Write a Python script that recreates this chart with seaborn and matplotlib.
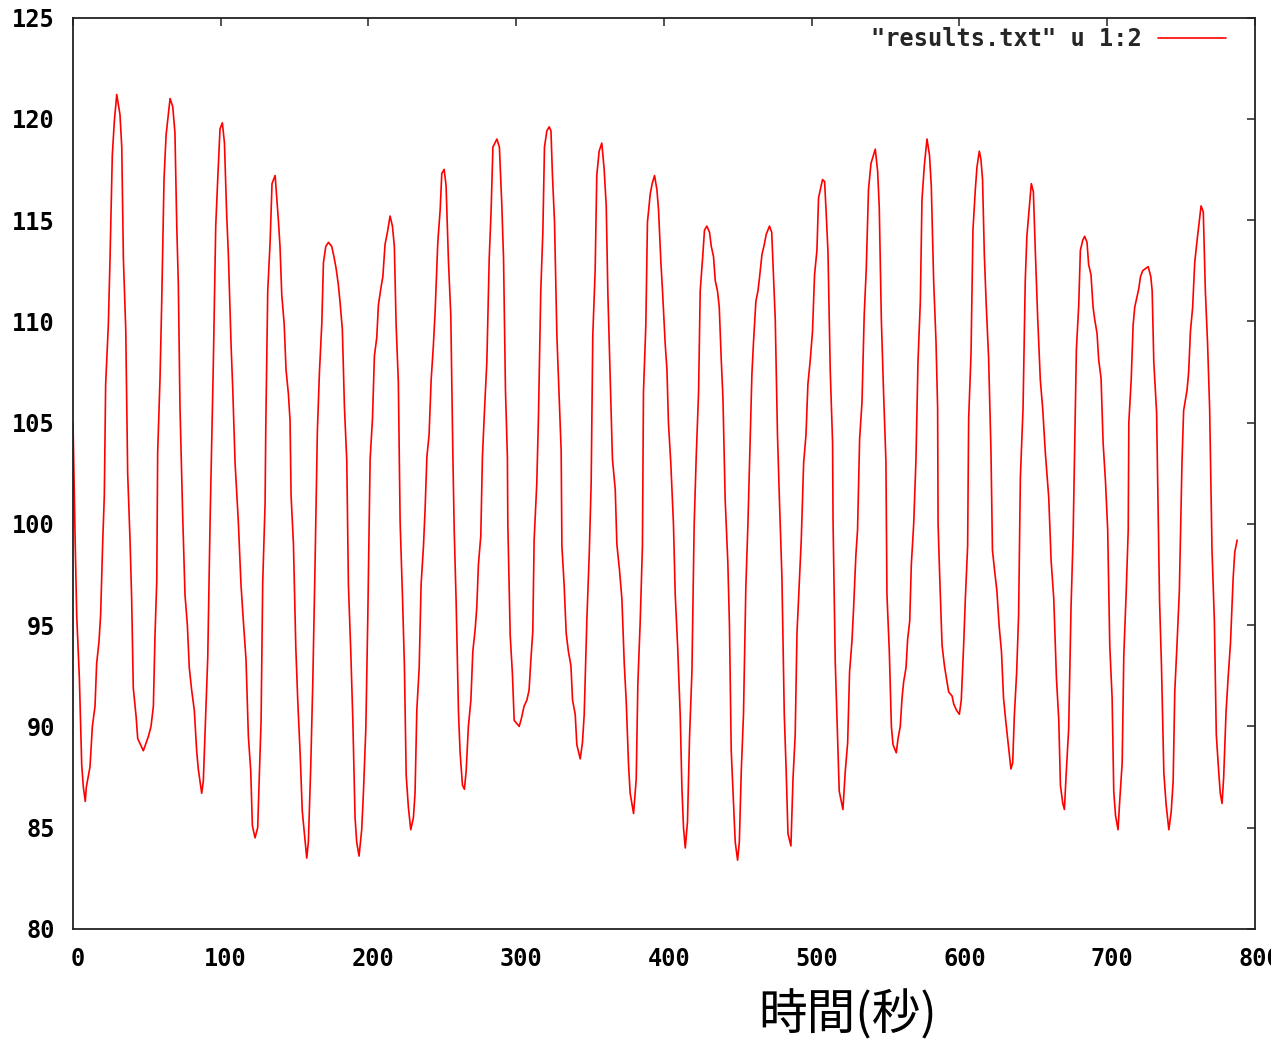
import matplotlib
matplotlib.use("Agg")
import matplotlib.pyplot as plt
import matplotlib.transforms as mtransforms
import seaborn as sns
import pandas as pd

# ---- data (time in s, value) ----
time_s = [
    0.0, 1.5, 2.5, 4.3, 5.9, 7.0, 8.3,
    9.0, 11.5, 13.1, 14.9, 16.0, 17.6, 18.7, 20.1, 21.2, 22.1, 23.9, 25.0, 26.6, 28.0, 29.6,
    31.8, 33.0, 34.1, 35.7, 37.0, 38.6, 39.7, 40.8, 42.7, 43.8, 47.6,
    51.0, 52.8, 54.4, 55.5, 56.7, 57.3, 58.9, 60.0, 61.6, 63.0, 65.7,
    67.5, 69.0, 70.2, 71.3, 72.4, 74.2, 75.8, 77.4, 78.7, 80.3, 82.1, 83.7, 84.8, 87.1,
    88.2, 89.8, 91.2, 92.8, 93.9, 95.0, 96.6, 98.0, 99.5, 101.1,
    102.5, 104.0, 105.2, 107.0, 108.1, 109.7, 110.8, 111.9, 113.7, 115.3, 117.1, 118.7, 120.3, 121.4, 123.2,
    125.0, 126.2, 127.3, 128.4, 130.0, 130.5, 131.8, 133.4, 134.7, 136.8,
    137.9, 139.0, 140.1, 141.3, 142.9, 144.2, 145.8, 146.9, 147.6, 149.2, 150.8, 152.1, 153.7, 155.2, 156.6, 158.2,
    159.3, 160.9, 162.3, 163.8, 165.4, 166.8, 168.4, 169.5, 171.1, 172.9,
    175.1, 176.6, 178.1, 179.6, 180.8, 182.3, 183.7, 185.3, 186.4, 188.0, 189.4, 190.9, 192.0, 193.6,
    195.4, 196.6, 198.2, 199.5, 201.1, 202.7, 204.0, 205.6, 206.7, 208.3, 209.7, 211.2, 212.8, 214.6,
    216.2, 217.5, 218.7, 220.2, 221.4, 223.0, 224.3, 225.5, 227.0, 228.6,
    230.4, 231.5, 232.7, 234.3, 235.6, 237.2, 238.3, 239.5, 241.0, 242.4, 243.9, 245.1, 246.9, 248.5, 249.6, 251.2,
    252.5, 254.1, 255.7, 257.1, 258.0, 259.3, 260.9, 262.0, 263.6, 264.9,
    266.1, 267.6, 269.3, 270.6, 272.2, 273.3, 274.4, 276.0, 277.1, 278.5, 280.1, 281.7, 283.0, 284.2, 286.9,
    288.6, 290.2, 291.4, 292.7, 294.0, 294.3, 295.9, 297.4, 298.6, 302.0,
    303.5, 305.3, 307.2, 308.7, 309.9, 311.2, 312.1, 313.9, 315.0, 316.6, 318.0, 319.1, 320.7, 322.3,
    323.5, 324.5, 325.9, 327.5, 329.0, 330.4, 330.9, 332.4, 333.8, 335.3, 337.0, 338.1, 339.9, 341.0, 343.3,
    344.8, 346.0, 347.8, 349.4, 350.7, 351.8, 353.4, 354.5, 356.1, 357.9,
    359.5, 360.9, 362.0, 363.6, 365.1, 367.0, 368.1, 369.9, 371.5, 373.1, 374.4, 376.0, 377.1, 379.4,
    381.2, 382.3, 383.9, 385.4, 386.1, 387.7, 388.8, 390.7, 392.0, 393.6,
    395.2, 396.3, 397.9, 399.0, 400.8, 402.0, 403.0, 404.6, 406.4, 407.6, 409.2, 411.0, 412.1, 413.2, 414.4,
    415.9, 417.3, 418.9, 420.4, 421.8, 423.4, 424.5, 426.1, 427.4, 429.0,
    430.8, 432.0, 433.5, 434.7, 436.2, 437.4, 438.7, 439.9, 441.4, 443.2, 444.3, 445.5, 447.0, 448.2, 449.8,
    451.0, 452.3, 453.8, 455.4, 456.8, 457.9, 459.5, 460.6, 462.2, 463.6, 464.7, 466.3, 467.9, 469.2, 471.4,
    472.9, 474.1, 475.3, 476.8, 478.2, 479.8, 481.4, 482.7, 483.9, 485.9,
    487.3, 488.8, 490.0, 491.5, 492.9, 494.5, 496.1, 497.4, 499.0, 500.5, 501.9, 503.5, 504.6, 507.3,
    508.7, 509.8, 511.0, 512.5, 514.1, 514.4, 515.9, 517.1, 518.6, 521.1,
    522.7, 524.3, 525.6, 527.2, 528.3, 529.9, 531.0, 532.4, 534.0, 535.5, 536.9, 538.4, 540.1, 543.0,
    544.6, 545.7, 547.1, 548.6, 550.2, 550.9, 552.5, 553.9, 555.0, 557.2,
    558.4, 559.9, 561.1, 562.2, 563.8, 564.9, 566.3, 567.4, 569.0, 570.5, 571.9, 573.5, 574.6, 576.2, 578.0,
    579.7, 580.9, 582.5, 584.1, 585.2, 585.5, 586.6, 588.2, 589.8, 591.1, 592.7, 595.0, 596.1, 598.0, 599.9,
    601.2, 602.8, 603.9, 605.5, 606.2, 607.8, 609.1, 610.7, 611.8, 613.4,
    614.5, 615.6, 616.8, 618.1, 619.7, 621.3, 622.3, 623.9, 625.3, 626.9, 628.4, 629.8, 631.4, 632.9, 634.8,
    636.0, 637.1, 638.7, 640.0, 641.2, 643.0, 644.5, 645.6, 647.3, 648.6,
    650.0, 651.3, 652.9, 654.7, 656.3, 658.1, 660.4, 662.0, 663.8, 665.6, 667.2, 668.3, 669.9, 671.0,
    672.3, 673.9, 675.5, 676.9, 679.1, 680.7, 681.8, 683.4, 684.7,
    686.3, 687.4, 689.0, 690.4, 691.5, 693.1, 694.2, 695.8, 697.2, 698.8, 700.3, 701.7, 703.3, 704.4, 705.6, 707.3,
    708.5, 710.1, 711.2, 712.8, 714.2, 714.6, 716.2, 717.5, 718.6, 719.8, 721.3, 722.5, 724.0, 727.7,
    729.5, 730.4, 731.5, 733.4, 735.4, 736.7, 738.3, 739.9, 741.7,
    743.3, 744.6, 745.7, 747.3, 748.8, 750.0, 750.6, 751.7, 754.0, 755.1, 756.3, 757.8, 759.2, 760.8, 762.4, 763.5,
    765.0, 766.4, 767.9, 769.3, 770.9, 772.5, 773.8, 775.4, 776.5, 777.7,
    778.8, 780.4, 781.8, 783.4, 785.2, 786.3, 787.9,
]
value = [
    105.0, 99.0, 95.5, 92.4, 88.1, 87.0, 86.3,
    87.0, 88.0, 90.0, 91.0, 93.1, 94.2, 95.5, 99.1, 101.4, 106.9, 109.8, 112.9, 118.2, 119.9, 121.2,
    120.2, 118.6, 113.1, 109.6, 102.5, 99.2, 96.3, 91.9, 90.5, 89.4, 88.8,
    89.5, 90.0, 91.0, 94.5, 97.2, 103.5, 107.2, 110.8, 117.0, 119.2, 121.0,
    120.6, 119.3, 114.8, 111.8, 105.8, 100.5, 96.5, 95.0, 92.9, 91.8, 90.8, 88.8, 87.9, 86.7,
    87.3, 90.6, 93.4, 100.2, 104.1, 108.0, 114.7, 117.1, 119.5, 119.8,
    118.8, 115.3, 113.2, 108.8, 106.7, 103.0, 101.5, 100.1, 97.0, 95.2, 93.3, 89.5, 87.8, 85.1, 84.5,
    85.0, 87.7, 90.3, 97.1, 101.0, 104.9, 111.5, 113.9, 116.8, 117.2,
    116.1, 115.0, 113.7, 111.3, 109.9, 107.6, 106.4, 105.1, 101.4, 99.0, 93.9, 91.3, 88.7, 85.8, 84.7, 83.5,
    84.3, 88.0, 92.2, 97.9, 104.6, 107.5, 109.9, 112.9, 113.7, 113.9,
    113.7, 113.2, 112.6, 111.8, 110.9, 109.6, 105.8, 103.1, 97.0, 93.7, 90.3, 85.5, 84.3, 83.6,
    84.9, 86.8, 89.9, 95.3, 103.2, 105.2, 108.3, 109.2, 110.8, 111.6, 112.2, 113.8, 114.4, 115.2,
    114.7, 113.7, 109.8, 107.0, 100.1, 96.4, 93.0, 87.6, 86.0, 84.9,
    85.5, 86.7, 90.8, 92.9, 97.0, 98.9, 100.7, 103.3, 104.4, 107.1, 108.8, 110.5, 113.9, 115.5, 117.3, 117.5,
    116.7, 113.0, 110.3, 103.4, 99.7, 96.2, 90.7, 88.7, 87.1, 86.9,
    87.8, 90.0, 91.3, 93.7, 94.8, 95.9, 98.0, 99.4, 103.3, 105.6, 108.0, 113.1, 115.5, 118.6, 119.0,
    118.6, 115.8, 113.1, 106.6, 103.3, 100.0, 94.5, 92.6, 90.3, 90.0,
    90.4, 91.0, 91.3, 91.8, 93.3, 94.7, 99.2, 102.0, 105.2, 111.5, 114.4, 118.6, 119.4, 119.6,
    119.4, 117.2, 114.9, 109.3, 106.4, 103.6, 98.9, 97.0, 94.6, 93.7, 93.0, 91.3, 90.6, 89.1, 88.4,
    89.2, 90.6, 95.3, 98.5, 102.0, 109.3, 112.5, 117.2, 118.4, 118.8,
    117.5, 115.7, 111.4, 107.1, 103.2, 101.7, 99.0, 97.7, 96.3, 93.1, 91.3, 88.1, 86.7, 85.7,
    87.4, 92.1, 95.2, 98.9, 106.5, 109.8, 114.9, 116.3, 116.8, 117.2,
    116.5, 115.5, 112.9, 111.5, 108.9, 107.6, 105.0, 103.0, 100.0, 96.5, 94.0, 90.5, 87.0, 85.0, 84.0,
    85.3, 89.5, 92.7, 99.9, 103.3, 106.5, 111.5, 113.1, 114.5, 114.7,
    114.4, 113.7, 113.2, 112.0, 111.5, 110.7, 108.2, 106.2, 101.2, 98.1, 95.0, 88.8, 86.3, 84.3, 83.4,
    84.3, 87.8, 90.6, 96.9, 100.0, 103.1, 107.4, 109.0, 111.0, 111.5, 112.2, 113.3, 113.8, 114.3, 114.7,
    114.4, 112.2, 110.1, 104.4, 101.0, 97.4, 90.6, 87.8, 84.7, 84.1,
    87.4, 89.6, 94.6, 97.0, 99.2, 103.0, 104.4, 106.9, 108.1, 109.5, 112.3, 113.5, 116.1, 117.0,
    116.9, 115.3, 113.4, 107.6, 104.0, 100.2, 93.2, 90.3, 86.8, 85.9,
    87.8, 89.2, 92.7, 94.2, 95.8, 98.5, 99.7, 104.2, 106.0, 110.3, 112.6, 116.5, 117.8, 118.5,
    117.4, 115.6, 110.1, 106.5, 103.1, 96.5, 93.7, 90.0, 89.1, 88.7,
    89.4, 90.0, 91.4, 92.2, 92.9, 94.3, 95.2, 98.0, 100.0, 103.1, 108.0, 111.0, 116.0, 117.7, 119.0,
    118.2, 116.7, 112.0, 109.0, 105.7, 100.0, 97.4, 94.0, 93.0, 92.4, 91.7, 91.5, 91.1, 90.8, 90.6,
    91.3, 94.0, 96.2, 98.9, 105.2, 108.4, 114.5, 116.5, 117.6, 118.4,
    118.0, 117.0, 113.3, 110.8, 108.2, 103.6, 98.7, 97.6, 96.7, 94.9, 93.7, 91.4, 90.2, 89.2, 87.9,
    88.2, 90.5, 92.7, 95.5, 102.3, 105.7, 112.0, 114.2, 115.7, 116.8,
    116.4, 113.5, 110.2, 107.1, 105.7, 103.5, 101.3, 98.2, 96.3, 92.4, 90.3, 87.1, 86.2, 85.9,
    87.8, 89.9, 95.9, 99.4, 108.6, 110.8, 113.5, 114.0, 114.2,
    113.9, 112.8, 112.3, 110.7, 110.1, 109.4, 108.1, 107.2, 104.0, 102.1, 99.7, 94.0, 91.4, 86.8, 85.6, 84.9,
    86.4, 88.2, 93.5, 96.6, 99.7, 105.0, 107.1, 109.8, 110.7, 111.1, 111.6, 112.2, 112.5, 112.7,
    112.2, 111.5, 108.0, 105.5, 96.2, 93.0, 87.7, 86.1, 84.9,
    85.8, 87.3, 91.7, 94.2, 96.7, 101.1, 103.1, 105.6, 106.6, 107.5, 109.5, 110.7, 112.9, 114.0, 115.0, 115.7,
    115.4, 111.5, 108.9, 105.7, 98.7, 95.2, 89.6, 87.8, 86.7, 86.2,
    87.5, 90.7, 92.4, 94.1, 97.3, 98.6, 99.2,
]

series_label = '"results.txt" u 1:2'
x_label = "時間(秒)"
x_ticks = [0, 100, 200, 300, 400, 500, 600, 700, 800]
y_ticks = [80, 85, 90, 95, 100, 105, 110, 115, 120, 125]

df = pd.DataFrame({"t": time_s, "v": value})

sns.set_style("white")
plt.rcParams["font.family"] = ["DejaVu Sans Mono", "DejaVu Sans"]
plt.rcParams["font.weight"] = "bold"

fig = plt.figure(figsize=(12.71, 10.39), dpi=100)
ax = fig.add_axes([73 / 1271, 1 - 929 / 1039, (1255 - 73) / 1271, (929 - 17.5) / 1039])

sns.lineplot(data=df, x="t", y="v", ax=ax, color="#ff0000", linewidth=1.2,
             sort=False, estimator=None, label=series_label)

ax.set_xlim(0, 800)
ax.set_ylim(80, 125)
ax.set_xticks(x_ticks)
ax.set_yticks(y_ticks)
ax.set_xlabel("")
ax.set_ylabel("")
ax.grid(False)

for s in ax.spines.values():
    s.set_visible(True)
    s.set_color("#222222")
    s.set_linewidth(1.3)

ax.tick_params(axis="both", which="both", direction="in", length=6, width=1.1,
               color="#222222", top=True, right=True, labelsize=17,
               labelcolor="black")
ax.tick_params(axis="x", pad=13)
ax.tick_params(axis="y", pad=13)
for lab in ax.get_xticklabels() + ax.get_yticklabels():
    lab.set_fontweight("bold")
    lab.set_fontfamily("DejaVu Sans Mono")

offset = mtransforms.ScaledTranslation(5 / 100, 0, fig.dpi_scale_trans)
for lab in ax.get_xticklabels():
    lab.set_transform(lab.get_transform() + offset)

leg = ax.legend(loc="center right", bbox_to_anchor=((1226 - 73) / 1182, 1 - (39.5 - 17.5) / 911.5),
                frameon=False, markerfirst=False, borderpad=0, borderaxespad=0,
                handlelength=2.9, handletextpad=0.65,
                prop={"family": "DejaVu Sans Mono", "weight": "bold", "size": 17})
for line in leg.get_lines():
    line.set_linewidth(1.2)

fig.text(848 / 1271, 1 - 1015 / 1039, x_label, ha="center", va="center",
         fontsize=35, family=["Noto Sans CJK JP", "DejaVu Sans"], fontweight="normal",
         color="black")

fig.savefig("out.png", dpi=100, facecolor="white")
